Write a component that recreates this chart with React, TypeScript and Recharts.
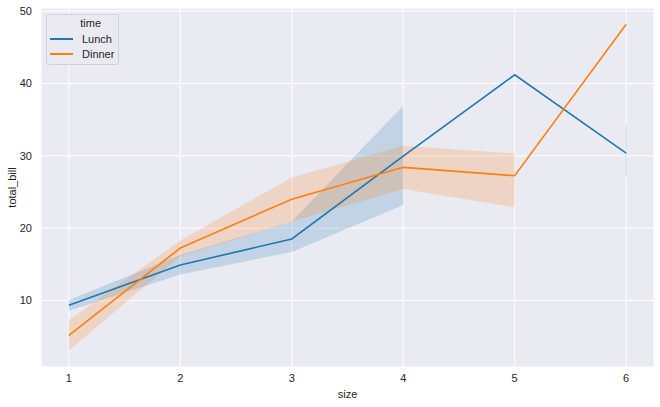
import React from 'react';
import { ComposedChart, Line, Area, XAxis, YAxis, CartesianGrid, ErrorBar } from 'recharts';

const sizes = [1, 2, 3, 4, 5, 6];
const lunchMean = [9.33, 14.9, 18.5, 29.95, 41.19, 30.38];
const dinnerMean = [5.16, 17.25, 24.0, 28.4, 27.25, 48.17];
// 95% CI bands; null where there is a single observation
const lunchBand: ([number, number] | null)[] = [[8.58, 10.07], [13.6, 16.3], [16.7, 20.9], [23.2, 36.9], null, [27.05, 34.3]];
const dinnerBand: ([number, number] | null)[] = [[3.07, 7.25], [16.1, 18.3], [20.9, 27.0], [25.4, 31.4], [22.9, 30.3], null];
const yTicks = [10, 20, 30, 40, 50];

const BLUE = '#1f77b4';
const ORANGE = '#ff7f0e';
const FONT = '"Liberation Sans", Arial, sans-serif';

// a band point with no neighbours can't form an area, draw it as a thin bar instead
const soloErr = (band: ([number, number] | null)[], mean: number[]) =>
  band.map((b, i) => {
    const alone = b && !band[i - 1] && !band[i + 1];
    return alone ? [mean[i] - b[0], b[1] - mean[i]] : 0;
  });

const lunchErr = soloErr(lunchBand, lunchMean);

const data = sizes.map((s, i) => ({
  size: s,
  lunch: lunchMean[i],
  dinner: dinnerMean[i],
  lunchBand: lunchBand[i],
  dinnerBand: dinnerBand[i],
  lunchErr: lunchErr[i],
}));

function LegendBox() {
  const row = (color: string, label: string) => (
    <div style={{ display: 'flex', alignItems: 'center', height: 15 }}>
      <div style={{ width: 23, height: 2, background: color, marginLeft: 3, marginRight: 9 }} />
      <span>{label}</span>
    </div>
  );
  return (
    <div
      style={{
        position: 'absolute',
        left: 46,
        top: 14,
        width: 73,
        height: 51,
        boxSizing: 'border-box',
        border: '1px solid rgba(204,204,204,0.8)',
        borderRadius: 3,
        background: 'rgba(234,234,242,0.8)',
        fontFamily: FONT,
        fontSize: 11,
        color: '#262626',
        paddingTop: 1,
      }}
    >
      <div style={{ textAlign: 'right', paddingRight: 17, height: 15, lineHeight: '15px' }}>time</div>
      {row(BLUE, 'Lunch')}
      {row(ORANGE, 'Dinner')}
    </div>
  );
}

export default function App() {
  return (
    <div style={{ position: 'absolute', left: 0, top: 0, width: 660, height: 407, background: '#fff' }}>
      <ComposedChart width={660} height={407} data={data} margin={{ top: 8, right: 6, left: 0, bottom: 0 }}>
        <CartesianGrid fill="#EAEAF2" stroke="#ffffff" strokeWidth={1} />
        <XAxis
          dataKey="size"
          type="number"
          domain={[0.75, 6.25]}
          ticks={sizes}
          axisLine={false}
          tickLine={false}
          tickSize={0}
          tickMargin={7}
          height={40}
          tick={{ fontSize: 11, fill: '#262626', fontFamily: FONT }}
          label={{ value: 'size', position: 'insideBottom', offset: 9, fontSize: 11, fill: '#262626', fontFamily: FONT }}
        />
        <YAxis
          type="number"
          domain={[0.8, 50.43]}
          ticks={yTicks}
          allowDataOverflow
          axisLine={false}
          tickLine={false}
          tickSize={0}
          tickMargin={9}
          width={41}
          tick={{ fontSize: 11, fill: '#262626', fontFamily: FONT }}
          label={{
            value: 'total_bill',
            angle: -90,
            position: 'insideLeft',
            offset: 12,
            style: { textAnchor: 'middle' },
            fontSize: 11,
            fill: '#262626',
            fontFamily: FONT,
          }}
        />
        <Area
          dataKey="lunchBand"
          fill={BLUE}
          fillOpacity={0.2}
          stroke="none"
          legendType="none"
          isAnimationActive={false}
          activeDot={false}
        />
        <Line dataKey="lunch" stroke={BLUE} strokeWidth={1.6} dot={false} legendType="none" isAnimationActive={false}>
          <ErrorBar dataKey="lunchErr" width={0} stroke={BLUE} strokeOpacity={0.2} strokeWidth={1} direction="y" />
        </Line>
        <Area
          dataKey="dinnerBand"
          fill={ORANGE}
          fillOpacity={0.2}
          stroke="none"
          legendType="none"
          isAnimationActive={false}
          activeDot={false}
        />
        <Line dataKey="dinner" stroke={ORANGE} strokeWidth={1.6} dot={false} legendType="none" isAnimationActive={false} />
      </ComposedChart>
      <LegendBox />
    </div>
  );
}
